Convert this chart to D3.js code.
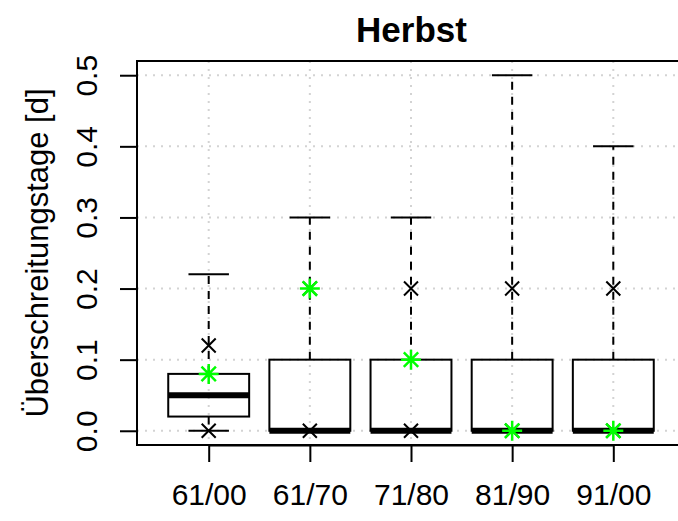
<!DOCTYPE html>
<html>
<head>
<meta charset="utf-8">
<script src="https://cdn.jsdelivr.net/npm/d3@7"></script>
<style>
  html, body { margin: 0; padding: 0; background: #fff; }
  svg { display: block; font-family: "Liberation Sans", Arial, Helvetica, sans-serif; }
</style>
</head>
<body>
<svg id="chart" width="678" height="521"></svg>
<script>
// ---- data ----
const categories = ["61/00", "61/70", "71/80", "81/90", "91/00"];
const whiskerLow  = [0.00, 0.00, 0.00, 0.00, 0.00];
const hingeLow    = [0.02, 0.00, 0.00, 0.00, 0.00];
const medians     = [0.05, 0.00, 0.00, 0.00, 0.00];
const hingeHigh   = [0.08, 0.10, 0.10, 0.10, 0.10];
const whiskerHigh = [0.22, 0.30, 0.30, 0.50, 0.40];
const lowMarks    = [0.00, 0.00, 0.00, 0.00, 0.00];   // black x, lower
const highMarks   = [0.12, 0.20, 0.20, 0.20, 0.20];   // black x, upper
const greenMarks  = [0.08, 0.20, 0.10, 0.00, 0.00];   // green asterisks
const yTicks      = [0.0, 0.1, 0.2, 0.3, 0.4, 0.5];
const title  = "Herbst";
const yLabel = "Überschreitungstage [d]";

// ---- layout ----
const svg = d3.select("#chart");
const plot = { left: 137, right: 686, top: 61, bottom: 445 };
const fontSize = 30;

const x = d3.scaleLinear().domain([1, 5]).range([208.7, 613.3]);
const step = x(2) - x(1);
const boxW = 0.8 * step;
const capW = boxW / 2;
const y = d3.scaleLinear().domain([-0.02, 0.52]).range([plot.bottom, plot.top]);

const idx = d3.range(categories.length);

// grid
const grid = svg.append("g")
  .attr("stroke", "#d3d3d3").attr("stroke-width", 2)
  .attr("stroke-dasharray", "2,6").attr("fill", "none");
grid.selectAll("line.h").data(yTicks).join("line")
  .attr("x1", plot.left).attr("x2", plot.right)
  .attr("y1", d => y(d)).attr("y2", d => y(d));
grid.selectAll("line.v").data(idx).join("line")
  .attr("x1", i => x(i + 1)).attr("x2", i => x(i + 1))
  .attr("y1", plot.top).attr("y2", plot.bottom);

// boxes
const g = svg.append("g").attr("stroke", "#000").attr("fill", "none");
g.selectAll("line.wh").data(idx).join("line")
  .attr("x1", i => x(i + 1)).attr("x2", i => x(i + 1))
  .attr("y1", i => y(hingeHigh[i])).attr("y2", i => y(whiskerHigh[i]))
  .attr("stroke-width", 2).attr("stroke-dasharray", "8,7");
g.selectAll("line.wl").data(idx).join("line")
  .attr("x1", i => x(i + 1)).attr("x2", i => x(i + 1))
  .attr("y1", i => y(hingeLow[i])).attr("y2", i => y(whiskerLow[i]))
  .attr("stroke-width", 2).attr("stroke-dasharray", "8,7");
g.selectAll("line.ch").data(idx).join("line")
  .attr("x1", i => x(i + 1) - capW / 2).attr("x2", i => x(i + 1) + capW / 2)
  .attr("y1", i => y(whiskerHigh[i])).attr("y2", i => y(whiskerHigh[i]))
  .attr("stroke-width", 2);
g.selectAll("line.cl").data(idx).join("line")
  .attr("x1", i => x(i + 1) - capW / 2).attr("x2", i => x(i + 1) + capW / 2)
  .attr("y1", i => y(whiskerLow[i])).attr("y2", i => y(whiskerLow[i]))
  .attr("stroke-width", 2);
g.selectAll("rect.box").data(idx).join("rect")
  .attr("x", i => x(i + 1) - boxW / 2).attr("width", boxW)
  .attr("y", i => y(hingeHigh[i]))
  .attr("height", i => y(hingeLow[i]) - y(hingeHigh[i]))
  .attr("stroke-width", 2);
g.selectAll("line.med").data(idx).join("line")
  .attr("x1", i => x(i + 1) - boxW / 2).attr("x2", i => x(i + 1) + boxW / 2)
  .attr("y1", i => y(medians[i])).attr("y2", i => y(medians[i]))
  .attr("stroke-width", 6);

// markers
function xMark(sel, cx, cy, r, color, w) {
  sel.append("path")
    .attr("d", `M${cx - r},${cy - r}L${cx + r},${cy + r}M${cx - r},${cy + r}L${cx + r},${cy - r}`)
    .attr("stroke", color).attr("stroke-width", w).attr("fill", "none");
}
function asterisk(sel, cx, cy, r, color, w) {
  const d = r * 0.72;
  sel.append("path")
    .attr("d", `M${cx - d},${cy - d}L${cx + d},${cy + d}M${cx - d},${cy + d}L${cx + d},${cy - d}` +
               `M${cx - r},${cy}L${cx + r},${cy}M${cx},${cy - r}L${cx},${cy + r}`)
    .attr("stroke", color).attr("stroke-width", w).attr("fill", "none");
}
const marks = svg.append("g");
idx.forEach(i => {
  xMark(marks, x(i + 1), y(lowMarks[i]), 7, "#000", 2);
  xMark(marks, x(i + 1), y(highMarks[i]), 7, "#000", 2);
});
idx.forEach(i => {
  asterisk(marks, x(i + 1), y(greenMarks[i]), 10, "#00ff00", 2.5);
});

// frame
svg.append("rect")
  .attr("x", plot.left).attr("y", plot.top)
  .attr("width", plot.right - plot.left).attr("height", plot.bottom - plot.top)
  .attr("fill", "none").attr("stroke", "#000").attr("stroke-width", 2);

// x axis
const xAxis = d3.axisBottom(d3.scaleLinear().domain(x.domain()).range(x.range()))
  .tickValues(idx.map(i => i + 1))
  .tickFormat(d => categories[d - 1])
  .tickSize(17).tickPadding(22).tickSizeOuter(0);
const gx = svg.append("g").attr("transform", `translate(0,${plot.bottom})`).call(xAxis);
gx.select(".domain").attr("stroke-width", 2);
gx.selectAll(".tick line").attr("stroke-width", 2);
gx.selectAll("text").attr("font-size", fontSize).attr("fill", "#000")
  .attr("font-family", "Liberation Sans, Arial, sans-serif");

// y axis
const yAxis = d3.axisLeft(y).tickValues(yTicks).tickFormat(d3.format(".1f"))
  .tickSize(17).tickSizeOuter(0);
const gy = svg.append("g").attr("transform", `translate(${plot.left},0)`).call(yAxis);
gy.select(".domain").attr("stroke-width", 2)
  .attr("d", `M0,${y(yTicks[0])}V${y(yTicks[yTicks.length - 1])}`);
gy.selectAll(".tick line").attr("stroke-width", 2);
gy.selectAll("text")
  .attr("font-size", fontSize).attr("fill", "#000")
  .attr("font-family", "Liberation Sans, Arial, sans-serif")
  .attr("x", null).attr("dy", null)
  .attr("text-anchor", "middle")
  .attr("transform", "translate(-40,0) rotate(-90)");

// title
svg.append("text")
  .attr("x", (plot.left + plot.right) / 2).attr("y", 42)
  .attr("text-anchor", "middle")
  .attr("font-size", 35).attr("font-weight", "bold")
  .text(title);

// y label
svg.append("text")
  .attr("transform", `translate(48,${(plot.top + plot.bottom) / 2}) rotate(-90)`)
  .attr("text-anchor", "middle")
  .attr("font-size", 31)
  .text(yLabel);
</script>
</body>
</html>
